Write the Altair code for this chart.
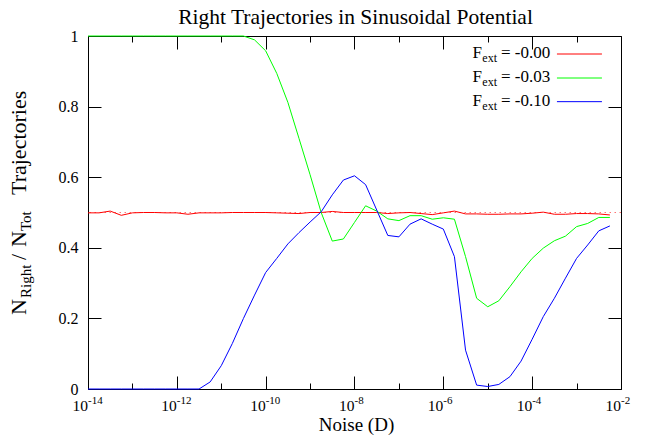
import altair as alt
import pandas as pd

# ---------------- data ----------------
noise_exp = [-14.0, -13.75, -13.5, -13.25, -13.0, -12.75, -12.5, -12.25,
             -12.0, -11.75, -11.5, -11.25, -11.0, -10.75, -10.5, -10.25,
             -10.0, -9.75, -9.5, -9.25, -9.0, -8.75, -8.5, -8.25,
             -8.0, -7.75, -7.5, -7.25, -7.0, -6.75, -6.5, -6.25,
             -6.0, -5.75, -5.5, -5.25, -5.0, -4.75, -4.5, -4.25,
             -4.0, -3.75, -3.5, -3.25, -3.0, -2.75, -2.5, -2.25]

f_000 = [0.499, 0.499, 0.504, 0.492, 0.499, 0.500, 0.500, 0.499,
         0.499, 0.495, 0.499, 0.499, 0.499, 0.500, 0.500, 0.500,
         0.500, 0.499, 0.498, 0.497, 0.500, 0.500, 0.503, 0.500,
         0.500, 0.500, 0.500, 0.497, 0.499, 0.500, 0.497, 0.494,
         0.499, 0.504, 0.496, 0.496, 0.495, 0.495, 0.496, 0.496,
         0.498, 0.501, 0.495, 0.495, 0.497, 0.497, 0.496, 0.493]

f_003 = [1.0, 1.0, 1.0, 1.0, 1.0, 1.0, 1.0, 1.0,
         1.0, 1.0, 1.0, 1.0, 1.0, 1.0, 1.0, 0.989,
         0.958, 0.894, 0.812, 0.710, 0.607, 0.500, 0.419, 0.425,
         0.472, 0.519, 0.504, 0.482, 0.477, 0.491, 0.491, 0.481,
         0.485, 0.481, 0.375, 0.257, 0.233, 0.250, 0.290, 0.332,
         0.370, 0.399, 0.420, 0.433, 0.460, 0.469, 0.486, 0.486]

f_010 = [0.0, 0.0, 0.0, 0.0, 0.0, 0.0, 0.0, 0.0,
         0.0, 0.0, 0.0, 0.020, 0.066, 0.129, 0.200, 0.266,
         0.330, 0.370, 0.411, 0.443, 0.473, 0.502, 0.550, 0.592,
         0.604, 0.579, 0.507, 0.435, 0.431, 0.467, 0.482, 0.467,
         0.453, 0.375, 0.110, 0.011, 0.007, 0.013, 0.035, 0.079,
         0.141, 0.205, 0.257, 0.314, 0.370, 0.408, 0.448, 0.462]

series_labels = ["-0.00", "-0.03", "-0.10"]
series_colors = ["#ff0000", "#00ff00", "#0000ff"]
ref_level = [0.5]
y_ticks = [0.0, 0.2, 0.4, 0.6, 0.8, 1.0]
x_major_exp = [-14, -12, -10, -8, -6, -4, -2]
x_minor_exp = [-13, -11, -9, -7, -5, -3]

# ---------------- layout ----------------
W, H = 533, 353
FONT = "Liberation Serif"
legend_rows = [0.949, 0.881, 0.814]          # legend row positions (data units)
legend_text_x = 10 ** -4.792
legend_line_x = (10 ** -3.442, 10 ** -2.429)

rows = []
for lab, vals in zip(series_labels, [f_000, f_003, f_010]):
    for e, v in zip(noise_exp, vals):
        rows.append({"noise": 10 ** e, "frac": v, "series": lab})
df = pd.DataFrame(rows)

xs = alt.Scale(type="log", domain=[1e-14, 1e-2], nice=False)
ys = alt.Scale(domain=[0, 1], nice=False, zero=False)
color = alt.Color("series:N", scale=alt.Scale(domain=series_labels, range=series_colors), legend=None)

lines = alt.Chart(df).mark_line(strokeWidth=1).encode(
    x=alt.X("noise:Q", scale=xs, axis=None),
    y=alt.Y("frac:Q", scale=ys, axis=None),
    color=color,
)

ref = alt.Chart(pd.DataFrame({"level": ref_level})).mark_rule(
    color="#ff0000", strokeDash=[1.5, 3.5], opacity=0.55, strokeWidth=1.2
).encode(y=alt.Y("level:Q", scale=ys, axis=None))


def xtick_layer(exps, orient, size):
    vals = [10.0 ** e for e in exps]
    return alt.Chart(pd.DataFrame({"v": vals})).mark_point(opacity=0, size=1).encode(
        x=alt.X("v:Q", scale=xs, axis=alt.Axis(
            orient=orient, offset=-H, values=vals, tickSize=size, labels=False,
            domain=False, title=None, grid=False, ticks=True,
            tickColor="black", tickWidth=1)))


def ytick_layer(orient, size):
    return alt.Chart(pd.DataFrame({"v": y_ticks})).mark_point(opacity=0, size=1).encode(
        y=alt.Y("v:Q", scale=ys, axis=alt.Axis(
            orient=orient, offset=-W, values=y_ticks, tickSize=size, labels=False,
            domain=False, title=None, grid=False, ticks=True,
            tickColor="black", tickWidth=1)))


ticks = [
    xtick_layer(x_major_exp, "top", 13),     # bottom edge, pointing up
    xtick_layer(x_minor_exp, "top", 6),
    xtick_layer(x_major_exp, "bottom", 13),  # top edge, pointing down
    xtick_layer(x_minor_exp, "bottom", 6),
    ytick_layer("right", 13),                # left edge, pointing right
    ytick_layer("left", 13),                 # right edge, pointing left
]

ylabels = alt.Chart(pd.DataFrame({"v": y_ticks})).mark_point(opacity=0, size=1).encode(
    y=alt.Y("v:Q", scale=ys, axis=alt.Axis(
        orient="left", values=y_ticks, format="~g", ticks=False, tickSize=0,
        domain=False, grid=False, title=None, labelPadding=10,
        labelFont=FONT, labelFontSize=16, labelColor="black")))

# x tick labels: "10" with superscript exponent
xl_df = pd.DataFrame({"v": [10.0 ** e for e in x_major_exp],
                      "ex": [str(e) for e in x_major_exp]})
xlab_base = alt.Chart(xl_df).mark_text(
    text="10", align="right", baseline="alphabetic", font=FONT, fontSize=15.5, color="black"
).encode(x=alt.X("v:Q", scale=xs, axis=None), y=alt.value(H + 22))
xlab_exp = alt.Chart(xl_df).mark_text(
    align="left", baseline="alphabetic", font=FONT, fontSize=11, color="black"
).encode(x=alt.X("v:Q", scale=xs, axis=None), y=alt.value(H + 15), text="ex:N")

one = pd.DataFrame({"a": [0]})
xtitle = alt.Chart(one).mark_text(
    text="Noise (D)", align="center", baseline="alphabetic", font=FONT, fontSize=19, color="black"
).encode(x=alt.value(W / 2 + 2), y=alt.value(H + 42))

title = alt.Chart(one).mark_text(
    text="Right Trajectories in Sinusoidal Potential", align="center", baseline="alphabetic",
    font=FONT, fontSize=21.5, color="black"
).encode(x=alt.value(W / 2 + 1), y=alt.value(-12))

# rotated y title with subscripts (dx runs along the text, upwards)
ytitle_parts = [("N", 0, 0, 22), ("Right", 17, 5, 15), ("/", 55, 0, 22),
                ("N", 68, 0, 22), ("Tot", 84, 5, 15), ("Trajectories", 120, 0, 22)]
ytitle = [
    alt.Chart(one).mark_text(
        text=t, align="left", baseline="alphabetic", angle=270, dx=dx, dy=dy,
        font=FONT, fontSize=fs, color="black"
    ).encode(x=alt.value(-62), y=alt.value(279))
    for t, dx, dy, fs in ytitle_parts
]

# legend (label left, line sample right)
leg_df = pd.DataFrame({"ly": legend_rows, "lab": ["= " + s for s in series_labels],
                       "series": series_labels,
                       "tx": [legend_text_x] * 3,
                       "x1": [legend_line_x[0]] * 3, "x2": [legend_line_x[1]] * 3})
leg_F = alt.Chart(leg_df).mark_text(
    text="F", align="right", baseline="alphabetic", dx=-15, dy=4, font=FONT, fontSize=17, color="black"
).encode(x=alt.X("tx:Q", scale=xs, axis=None), y=alt.Y("ly:Q", scale=ys, axis=None))
leg_sub = alt.Chart(leg_df).mark_text(
    text="ext", align="right", baseline="alphabetic", dx=0, dy=8, font=FONT, fontSize=12, color="black"
).encode(x=alt.X("tx:Q", scale=xs, axis=None), y=alt.Y("ly:Q", scale=ys, axis=None))
leg_txt = alt.Chart(leg_df).mark_text(
    align="left", baseline="alphabetic", dx=4, dy=4, font=FONT, fontSize=17, color="black"
).encode(x=alt.X("tx:Q", scale=xs, axis=None), y=alt.Y("ly:Q", scale=ys, axis=None), text="lab:N")
leg_line = alt.Chart(leg_df).mark_rule(strokeWidth=1).encode(
    x=alt.X("x1:Q", scale=xs, axis=None), x2="x2:Q",
    y=alt.Y("ly:Q", scale=ys, axis=None), color=color)

chart = alt.layer(
    ref, lines, *ticks, ylabels, xlab_base, xlab_exp, xtitle, title, *ytitle,
    leg_F, leg_sub, leg_txt, leg_line
).resolve_axis(x="independent", y="independent").properties(
    width=W, height=H,
    autosize=alt.AutoSizeParams(type="none"),
    padding={"left": 80, "top": 28, "right": 15, "bottom": 46},
    background="white",
).configure_view(stroke="black", strokeWidth=1)

chart.save("out.html", embed_options={"renderer": "svg", "actions": False})
